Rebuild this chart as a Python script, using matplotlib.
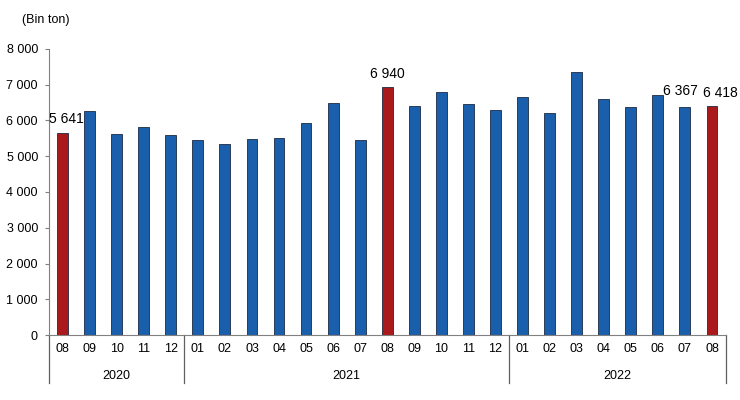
import matplotlib
matplotlib.use("Agg")
import matplotlib.pyplot as plt
import matplotlib.transforms as mtransforms

plt.rcParams['font.family'] = ['Liberation Sans', 'DejaVu Sans']

# aylar (2020-08 .. 2022-08)
months = ["08", "09", "10", "11", "12",
          "01", "02", "03", "04", "05", "06", "07", "08", "09", "10", "11", "12",
          "01", "02", "03", "04", "05", "06", "07", "08"]
years = ["2020", "2021", "2022"]
year_counts = [5, 12, 8]
values = [5641, 6275, 5630, 5826, 5583,
          5454, 5350, 5481, 5518, 5930, 6479, 5454, 6940, 6415, 6798, 6451, 6283,
          6658, 6210, 7347, 6591, 6378, 6723, 6367, 6418]
highlight = [0, 12, 24]
labelled = {0: "5 641", 12: "6 940", 23: "6 367", 24: "6 418"}
yticks = [0, 1000, 2000, 3000, 4000, 5000, 6000, 7000, 8000]

BLUE = "#1a5fac"
RED = "#aa1a1c"

fig = plt.figure(figsize=(7.4, 4.0), dpi=100)
ax = fig.add_axes([49 / 740, 1 - 335 / 400, (725.5 - 49) / 740, 286 / 400])

x = list(range(len(values)))
colors = [RED if i in highlight else BLUE for i in x]
ax.bar(x, values, width=0.4, color=colors, edgecolor="#1c2a44", linewidth=0.6)

ax.set_xlim(-0.5, len(values) - 0.5)
ax.set_ylim(0, 8000)
ax.set_yticks(yticks)
ax.set_yticklabels([f"{v:,}".replace(",", " ") for v in yticks], fontsize=9)
ax.set_xticks(x)
ax.set_xticklabels(months, fontsize=9)
ax.tick_params(axis="x", length=0, pad=6)
ax.tick_params(axis="y", length=3, direction="out", pad=5, color="#808080")

for side in ["top", "right"]:
    ax.spines[side].set_visible(False)
ax.spines["left"].set_color("#808080")
ax.spines["bottom"].set_color("#808080")

# yil ayiricilari
trans = mtransforms.blended_transform_factory(ax.transData, ax.transAxes)
edges = [-0.5]
for c in year_counts:
    edges.append(edges[-1] + c)
for e in edges:
    ax.plot([e, e], [0, -0.168], transform=trans, color="#606060",
            linewidth=0.9, clip_on=False)
for i, yr in enumerate(years):
    ax.text((edges[i] + edges[i + 1]) / 2, -0.143, yr, transform=trans,
            ha="center", va="center", fontsize=9)

offsets = {0: (3, 5), 12: (0, 4), 23: (-3, 7), 24: (6, 4)}
for i, txt in labelled.items():
    ax.annotate(txt, (i, values[i]), xytext=offsets[i], textcoords="offset points",
                ha="center", va="bottom", fontsize=10)

fig.text(22 / 740, 1 - 20 / 400, "(Bin ton)", fontsize=9, va="center")

fig.savefig("out.png", dpi=100)
